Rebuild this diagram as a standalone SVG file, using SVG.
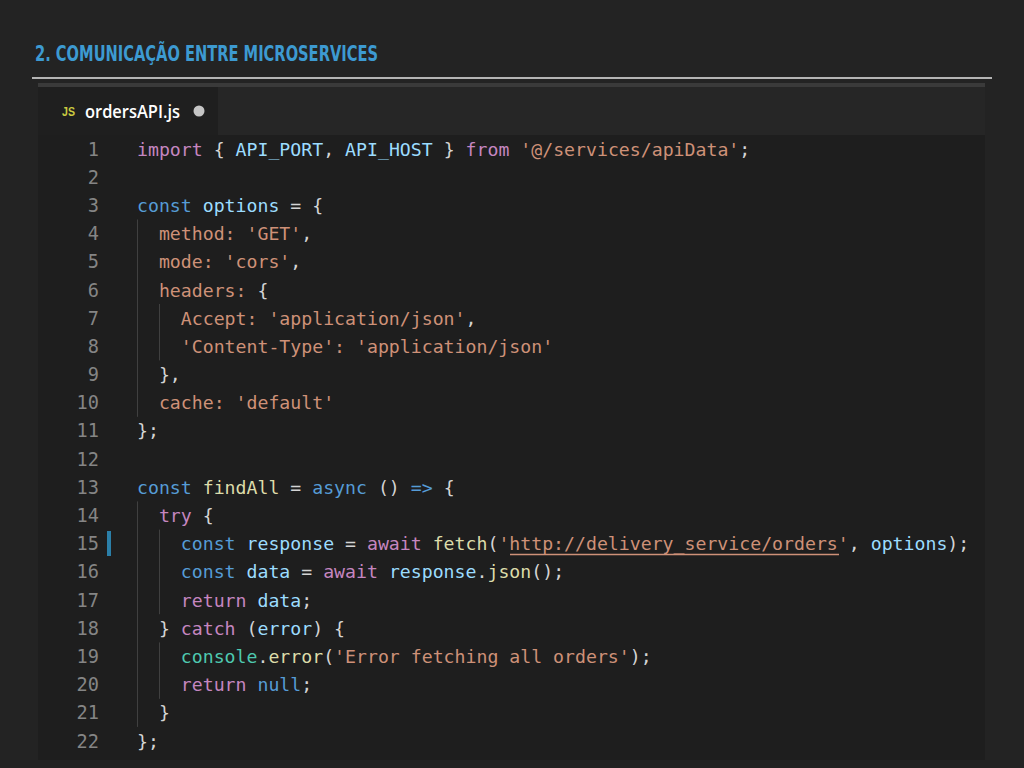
<svg xmlns="http://www.w3.org/2000/svg" width="1024" height="768" viewBox="0 0 1024 768">
<defs>
<style>
.code{font-family:"DejaVu Sans Mono","Liberation Mono",monospace;font-size:18.2px;fill:#d4d4d4}
.ln{font-family:"DejaVu Sans Mono","Liberation Mono",monospace;font-size:18.6px;fill:#858585;text-anchor:end}
.kw{fill:#569cd6}
.ct{fill:#c586c0}
.v{fill:#9cdcfe}
.s{fill:#ce9178}
.f{fill:#dcdcaa}
.t{fill:#4ec9b0}
.guide{stroke:#404040;stroke-width:1}
</style>
</defs>
<rect x="0" y="0" width="1024" height="768" fill="#232323"/>
<g id="title">
<text x="35" y="60.5" font-family="DejaVu Sans Condensed,Liberation Sans Narrow,sans-serif" font-size="21" font-weight="bold" fill="#3d9ad1" textLength="343" lengthAdjust="spacingAndGlyphs">2. COMUNICAÇÃO ENTRE MICROSERVICES</text>
<rect x="32" y="77" width="960" height="2" fill="#b4b4b4"/>
</g>
<g id="editor">
<rect x="38" y="83" width="947" height="677" fill="#1e1e1e"/>
<rect x="38" y="83" width="947" height="4" fill="#3a3a3a"/>
<rect x="38" y="87" width="947" height="48" fill="#262626"/>
<rect x="38" y="87" width="180" height="48" fill="#1f1f1f"/>
</g>
<g id="tab">
<text x="62" y="115.5" font-family="Liberation Sans,Arial,sans-serif" font-size="12.5" font-weight="bold" fill="#cbcb41" textLength="13" lengthAdjust="spacingAndGlyphs">JS</text>
<text x="85" y="118" font-family="Open Sans,Liberation Sans,Arial,sans-serif" font-size="17.5" font-weight="600" fill="#ffffff" textLength="95" lengthAdjust="spacingAndGlyphs">ordersAPI.js</text>
<circle cx="199" cy="111" r="5.5" fill="#c5c5c5"/>
</g>
<g id="gutter">
<text class="ln" x="99" y="155.5">1</text>
<text class="ln" x="99" y="183.7">2</text>
<text class="ln" x="99" y="211.9">3</text>
<text class="ln" x="99" y="240.1">4</text>
<text class="ln" x="99" y="268.3">5</text>
<text class="ln" x="99" y="296.5">6</text>
<text class="ln" x="99" y="324.6">7</text>
<text class="ln" x="99" y="352.8">8</text>
<text class="ln" x="99" y="381.0">9</text>
<text class="ln" x="99" y="409.2">10</text>
<text class="ln" x="99" y="437.4">11</text>
<text class="ln" x="99" y="465.6">12</text>
<text class="ln" x="99" y="493.8">13</text>
<text class="ln" x="99" y="522.0">14</text>
<text class="ln" x="99" y="550.2">15</text>
<text class="ln" x="99" y="578.4">16</text>
<text class="ln" x="99" y="606.6">17</text>
<text class="ln" x="99" y="634.8">18</text>
<text class="ln" x="99" y="663.0">19</text>
<text class="ln" x="99" y="691.2">20</text>
<text class="ln" x="99" y="719.3">21</text>
<text class="ln" x="99" y="747.5">22</text>
<rect x="107" y="531" width="4" height="25" fill="#2b7fa8"/>
</g>
<g id="guides">
<line class="guide" x1="137.5" y1="219.5" x2="137.5" y2="416.8"/>
<line class="guide" x1="159.5" y1="304" x2="159.5" y2="360.4"/>
<line class="guide" x1="137.5" y1="501.4" x2="137.5" y2="726.9"/>
<line class="guide" x1="159.5" y1="529.6" x2="159.5" y2="614.2"/>
<line class="guide" x1="159.5" y1="642.4" x2="159.5" y2="698.8"/>
</g>
<g id="code" class="code" xml:space="preserve">
<text x="137" y="155.5"><tspan class="ct">import</tspan> { <tspan class="v">API_PORT</tspan>, <tspan class="v">API_HOST</tspan> } <tspan class="ct">from</tspan> <tspan class="s">'@/services/apiData'</tspan>;</text>
<text x="137" y="211.9"><tspan class="kw">const</tspan> <tspan class="v">options</tspan> = {</text>
<text x="158.9" y="240.1"><tspan class="s">method:</tspan> <tspan class="s">'GET'</tspan>,</text>
<text x="158.9" y="268.3"><tspan class="s">mode:</tspan> <tspan class="s">'cors'</tspan>,</text>
<text x="158.9" y="296.5"><tspan class="s">headers:</tspan> {</text>
<text x="180.8" y="324.6"><tspan class="s">Accept:</tspan> <tspan class="s">'application/json'</tspan>,</text>
<text x="180.8" y="352.8"><tspan class="s">'Content-Type':</tspan> <tspan class="s">'application/json'</tspan></text>
<text x="158.9" y="381.0">},</text>
<text x="158.9" y="409.2"><tspan class="s">cache:</tspan> <tspan class="s">'default'</tspan></text>
<text x="137" y="437.4">};</text>
<text x="137" y="493.8"><tspan class="kw">const</tspan> <tspan class="f">findAll</tspan> = <tspan class="kw">async</tspan> () <tspan class="kw">=&gt;</tspan> {</text>
<text x="158.9" y="522.0"><tspan class="ct">try</tspan> {</text>
<text x="180.8" y="550.2"><tspan class="kw">const</tspan> <tspan class="v">response</tspan> = <tspan class="ct">await</tspan> <tspan class="f">fetch</tspan>(<tspan class="s">'http://delivery_service/orders'</tspan>, <tspan class="v">options</tspan>);</text>
<text x="180.8" y="578.4"><tspan class="kw">const</tspan> <tspan class="v">data</tspan> = <tspan class="ct">await</tspan> <tspan class="v">response</tspan>.<tspan class="f">json</tspan>();</text>
<text x="180.8" y="606.6"><tspan class="ct">return</tspan> <tspan class="v">data</tspan>;</text>
<text x="158.9" y="634.8">} <tspan class="ct">catch</tspan> (<tspan class="v">error</tspan>) {</text>
<text x="180.8" y="663.0"><tspan class="t">console</tspan>.<tspan class="f">error</tspan>(<tspan class="s">'Error fetching all orders'</tspan>);</text>
<text x="180.8" y="691.2"><tspan class="ct">return</tspan> <tspan class="kw">null</tspan>;</text>
<text x="158.9" y="719.3">}</text>
<text x="137" y="747.5">};</text>
</g>
<line x1="510" y1="554.5" x2="839" y2="554.5" stroke="#ce9178" stroke-width="1.3"/>
</svg>
